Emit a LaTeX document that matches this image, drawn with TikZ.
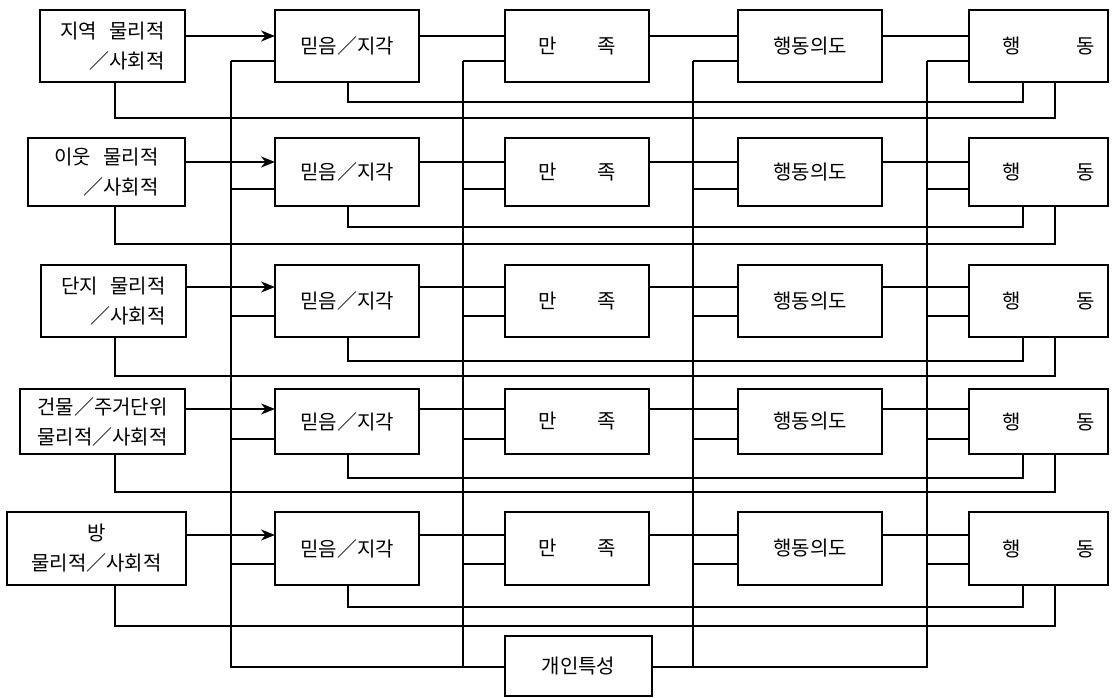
\documentclass[tikz,border=0pt]{standalone}
\usepackage{fontspec}
\newfontfamily\kr{Noto Sans CJK KR}
\usetikzlibrary{arrows.meta}
\begin{document}
\begin{tikzpicture}[x=1pt,y=-1pt,
  box/.style={draw,line width=2pt,inner sep=0pt,outer sep=0pt,font=\kr\fontsize{20}{30}\selectfont},
  conn/.style={line width=1.3pt},
  arr/.style={line width=2pt,-{Stealth[length=14pt,width=11pt]}},
]
\useasboundingbox (0,0) rectangle (1114,698);
% bus and feedback x positions
\coordinate (X1) at (231,0);
\coordinate (X2) at (463,0);
\coordinate (X3) at (693,0);
\coordinate (X4) at (927,0);
\coordinate (F1) at (115,0);
\coordinate (F2) at (348,0);
\coordinate (F3) at (1023,0);
\coordinate (F4) at (1055,0);
\coordinate (bot) at (0,667);
% source boxes
\node[box,minimum width=145pt,minimum height=72pt,align=right] (s1) at (112.5,46) {지역\hspace{12pt}물리적\\／사회적};
\node[box,minimum width=157pt,minimum height=68pt,align=right] (s2) at (106.5,172) {이웃\hspace{12pt}물리적\\／사회적};
\node[box,minimum width=145pt,minimum height=72pt,align=right] (s3) at (113.5,301) {단지\hspace{12pt}물리적\\／사회적};
\node[box,minimum width=165pt,minimum height=65pt,align=center] (s4) at (102.5,421.5) {건물／주거단위\\물리적／사회적};
\node[box,minimum width=179pt,minimum height=73pt,align=center] (s5) at (96.5,548.5) {방\\물리적／사회적};
\foreach \Ra/\Ta/\Ba/\Ma/\Ua/\Ia/\Oa in {1/10/82/36/61/102/118, 2/138/206/162/189/227/244, 3/265/337/287/316/361/376, 4/389/454/409/439/478/492, 5/512/585/535/564/607/626}{
  \pgfmathsetmacro\cy{(\Ta+\Ba)/2}
  \pgfmathsetmacro\hh{\Ba-\Ta}
  \node[box,minimum width=144pt,minimum height=\hh pt] (p\Ra) at (347,\cy) {믿음／지각};
  \node[box,minimum width=144pt,minimum height=\hh pt] (q\Ra) at (577,\cy) {만\hspace{40pt}족};
  \node[box,minimum width=144pt,minimum height=\hh pt] (i\Ra) at (810,\cy) {행동의도};
  \node[box,minimum width=139pt,minimum height=\hh pt] (a\Ra) at (1038.5,\cy) {\hspace*{20pt}행\hspace{56pt}동};
  \coordinate (m\Ra) at (0,\Ma);
  \coordinate (u\Ra) at (0,\Ua);
  \coordinate (fi\Ra) at (0,\Ia);
  \coordinate (fo\Ra) at (0,\Oa);
  \draw[arr] (s\Ra.east |- m\Ra) -- (p\Ra.west |- m\Ra);
  \draw[conn] (p\Ra.east |- m\Ra) -- (q\Ra.west |- m\Ra);
  \draw[conn] (q\Ra.east |- m\Ra) -- (i\Ra.west |- m\Ra);
  \draw[conn] (i\Ra.east |- m\Ra) -- (a\Ra.west |- m\Ra);
  \draw[conn] (X1 |- u\Ra) -- (p\Ra.west |- u\Ra);
  \draw[conn] (X2 |- u\Ra) -- (q\Ra.west |- u\Ra);
  \draw[conn] (X3 |- u\Ra) -- (i\Ra.west |- u\Ra);
  \draw[conn] (X4 |- u\Ra) -- (a\Ra.west |- u\Ra);
  \draw[conn] (p\Ra.south -| F2) -- (F2 |- fi\Ra) -- (F3 |- fi\Ra) -- (a\Ra.south -| F3);
  \draw[conn] (s\Ra.south -| F1) -- (F1 |- fo\Ra) -- (F4 |- fo\Ra) -- (a\Ra.south -| F4);
}
% personal characteristics
\node[box,minimum width=147pt,minimum height=60pt] (k) at (578.5,666) {개인특성};
\draw[conn] (X1 |- u1) -- (X1 |- bot) -- (k.west |- bot);
\draw[conn] (X2 |- u1) -- (X2 |- bot);
\draw[conn] (X3 |- u1) -- (X3 |- bot);
\draw[conn] (X4 |- u1) -- (X4 |- bot) -- (k.east |- bot);
\end{tikzpicture}
\end{document}
